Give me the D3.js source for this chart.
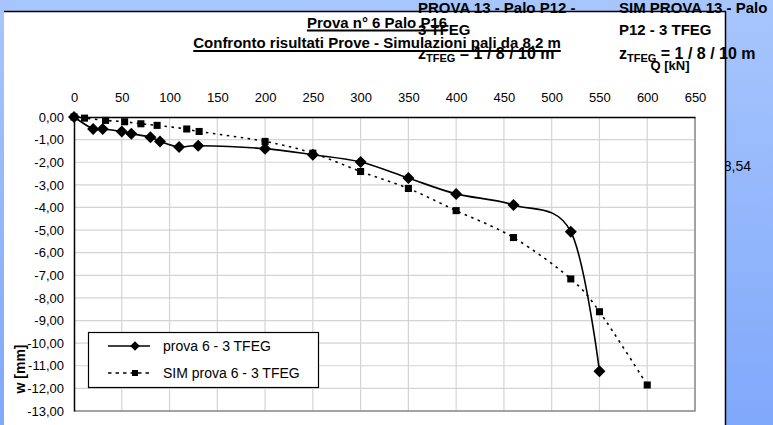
<!DOCTYPE html>
<html>
<head>
<meta charset="utf-8">
<script src="https://cdn.jsdelivr.net/npm/d3@7"></script>
<style>
  html, body { margin: 0; padding: 0; }
  body { width: 773px; height: 425px; overflow: hidden; }
  svg { display: block; font-family: Arial, "Liberation Sans", sans-serif; }
</style>
</head>
<body>
<div id="chart"></div>
<script>
// prova 6 - 3 TFEG (misurata)
const provaQ = [0, 20, 30, 50, 60, 80, 90, 110, 130, 200, 250, 300, 350, 400, 460, 520, 550];
const provaW = [0, -0.53, -0.53, -0.64, -0.74, -0.89, -1.08, -1.33, -1.27, -1.40, -1.67, -1.99, -2.70, -3.40, -3.89, -5.07, -11.24];

// SIM prova 6 - 3 TFEG (simulazione)
const simQ = [0, 11, 33, 53, 70, 87, 118, 131, 200, 250, 300, 350, 400, 460, 520, 550, 600];
const simW = [0, -0.05, -0.15, -0.21, -0.30, -0.37, -0.53, -0.64, -1.08, -1.60, -2.41, -3.16, -4.14, -5.33, -7.16, -8.61, -11.85];

const xTicks = [0, 50, 100, 150, 200, 250, 300, 350, 400, 450, 500, 550, 600, 650];
const yTicks = [0, -1, -2, -3, -4, -5, -6, -7, -8, -9, -10, -11, -12, -13];

const seriesNames = ["prova 6 - 3 TFEG", "SIM prova 6 - 3 TFEG"];

const width = 773, height = 425;
const plot = { left: 74, right: 695, top: 117, bottom: 411 };

const svg = d3.select("#chart").append("svg")
    .attr("width", width)
    .attr("height", height);

// sfondo blu sfumato
const defs = svg.append("defs");
const grad = defs.append("linearGradient")
    .attr("id", "bg").attr("x1", 0).attr("y1", 0).attr("x2", 0).attr("y2", 1);
grad.append("stop").attr("offset", "0%").attr("stop-color", "#a8c6fd");
grad.append("stop").attr("offset", "100%").attr("stop-color", "#80a8fb");
svg.append("rect").attr("width", width).attr("height", height).attr("fill", "url(#bg)");

// etichetta tagliata a destra (sotto il pannello)
svg.append("text")
    .attr("x", 751).attr("y", 171)
    .attr("text-anchor", "end")
    .attr("font-size", 14)
    .text("8,54");

// pannello bianco
svg.append("rect")
    .attr("x", 4).attr("y", 11)
    .attr("width", 721).attr("height", 420)
    .attr("fill", "#fff");
svg.append("path")
    .attr("d", "M4,11.5H725.5V425")
    .attr("fill", "none")
    .attr("stroke", "#000")
    .attr("stroke-width", 1.5);

const x = d3.scaleLinear().domain([0, 650]).range([plot.left, plot.right]);
const y = d3.scaleLinear().domain([0, -13]).range([plot.top, plot.bottom]);

// griglia
const grid = svg.append("g");
grid.selectAll("line.v")
    .data(xTicks.slice(1))
    .enter().append("line")
    .attr("x1", d => x(d)).attr("x2", d => x(d))
    .attr("y1", plot.top).attr("y2", plot.bottom)
    .attr("stroke", "#d4d4d4").attr("stroke-width", 1.2);
grid.selectAll("line.h")
    .data(yTicks.slice(1))
    .enter().append("line")
    .attr("x1", plot.left).attr("x2", plot.right)
    .attr("y1", d => y(d)).attr("y2", d => y(d))
    .attr("stroke", "#d4d4d4").attr("stroke-width", 1.2);

// bordo destro e inferiore grigio
svg.append("path")
    .attr("d", `M${plot.right},${plot.top}V${plot.bottom}H${plot.left}`)
    .attr("fill", "none")
    .attr("stroke", "#8c8c8c")
    .attr("stroke-width", 1.5);

// assi
const xAxis = svg.append("g")
    .attr("transform", `translate(0,${plot.top})`)
    .call(d3.axisTop(x).tickValues(xTicks).tickSize(0).tickPadding(15));
xAxis.select(".domain").attr("stroke", "#000").attr("stroke-width", 1.5);
xAxis.selectAll("text").attr("font-size", 13).attr("fill", "#000")
    .attr("font-family", "Arial, 'Liberation Sans', sans-serif");

const fmt = d => d3.format(".2f")(d).replace(".", ",").replace("−", "-");
const yAxis = svg.append("g")
    .attr("transform", `translate(${plot.left},0)`)
    .call(d3.axisLeft(y).tickValues(yTicks).tickSize(0).tickPadding(10).tickFormat(fmt));
yAxis.select(".domain").attr("stroke", "#000").attr("stroke-width", 1.5);
yAxis.selectAll("text").attr("font-size", 13).attr("fill", "#000")
    .attr("font-family", "Arial, 'Liberation Sans', sans-serif");

// curve
const line = d3.line()
    .x(d => x(d[0]))
    .y(d => y(d[1]))
    .curve(d3.curveCatmullRom.alpha(0));

const simData = simQ.map((q, i) => [q, simW[i]]);
const provaData = provaQ.map((q, i) => [q, provaW[i]]);

svg.append("path")
    .datum(simData)
    .attr("d", line)
    .attr("fill", "none")
    .attr("stroke", "#000")
    .attr("stroke-width", 1.6)
    .attr("stroke-dasharray", "2.5,4.5");

svg.append("path")
    .datum(provaData)
    .attr("d", line)
    .attr("fill", "none")
    .attr("stroke", "#000")
    .attr("stroke-width", 1.6);

const square = d3.symbol().type(d3.symbolSquare).size(50);
const diamond = "M0,-6L6,0L0,6L-6,0Z";

svg.append("g").selectAll("path")
    .data(simData)
    .enter().append("path")
    .attr("transform", d => `translate(${x(d[0])},${y(d[1])})`)
    .attr("d", square)
    .attr("fill", "#000");

svg.append("g").selectAll("path")
    .data(provaData)
    .enter().append("path")
    .attr("transform", d => `translate(${x(d[0])},${y(d[1])})`)
    .attr("d", diamond)
    .attr("fill", "#000");

// legenda
const legend = svg.append("g").attr("transform", "translate(88,332)");
legend.append("rect")
    .attr("x", 0.5).attr("y", 0.5)
    .attr("width", 230).attr("height", 55)
    .attr("fill", "#fff").attr("stroke", "#000").attr("stroke-width", 1.2);

const legRows = [
    { name: seriesNames[0], y: 14, dash: null, mark: diamond },
    { name: seriesNames[1], y: 41, dash: "3.5,4", mark: square }
];
legRows.forEach(r => {
    legend.append("line")
        .attr("x1", 20).attr("x2", 62)
        .attr("y1", r.y).attr("y2", r.y)
        .attr("stroke", "#000").attr("stroke-width", 1.6)
        .attr("stroke-dasharray", r.dash);
    legend.append("path")
        .attr("transform", `translate(47,${r.y}) scale(${r.mark === diamond ? 0.8 : 0.85})`)
        .attr("d", r.mark)
        .attr("fill", "#000");
    legend.append("text")
        .attr("x", 75).attr("y", r.y + 5)
        .attr("font-size", 14)
        .text(r.name);
});

// titoli degli assi
svg.append("text")
    .attr("transform", "translate(25,369) rotate(-90)")
    .attr("text-anchor", "middle")
    .attr("font-size", 14)
    .attr("font-weight", "bold")
    .text("w [mm]");

svg.append("text")
    .attr("x", 670).attr("y", 70)
    .attr("text-anchor", "middle")
    .attr("font-size", 13)
    .attr("font-weight", "bold")
    .text("Q [kN]");

// caselle di testo sovrapposte
function zLabel(x0, y0) {
    const t = svg.append("text")
        .attr("x", x0).attr("y", y0)
        .attr("font-size", 16)
        .attr("font-weight", "bold");
    t.append("tspan").text("z");
    t.append("tspan").attr("font-size", 11).attr("dy", 3).text("TFEG");
    t.append("tspan").attr("dy", -3).text(" = 1 / 8 / 10 m");
}

svg.append("text").attr("x", 418).attr("y", 13)
    .attr("font-size", 15).attr("font-weight", "bold")
    .text("PROVA 13 - Palo P12 -");
svg.append("text").attr("x", 418).attr("y", 35)
    .attr("font-size", 15).attr("font-weight", "bold")
    .text("3 TFEG");
zLabel(418, 59);

svg.append("text").attr("x", 619).attr("y", 13)
    .attr("font-size", 15).attr("font-weight", "bold")
    .text("SIM PROVA 13  -  Palo");
svg.append("text").attr("x", 619).attr("y", 35)
    .attr("font-size", 15).attr("font-weight", "bold")
    .text("P12 - 3 TFEG");
zLabel(619, 59);

// titolo sottolineato
const titles = [
    { text: "Prova n° 6 Palo P16", y: 28, uy: 30.5 },
    { text: "Confronto risultati Prove - Simulazioni pali da 8,2 m", y: 48, uy: 51 }
];
titles.forEach(t => {
    const tx = svg.append("text")
        .attr("x", 377).attr("y", t.y)
        .attr("text-anchor", "middle")
        .attr("font-size", 15)
        .attr("font-weight", "bold")
        .text(t.text);
    const w = tx.node().getComputedTextLength();
    svg.append("line")
        .attr("x1", 377 - w / 2).attr("x2", 377 + w / 2)
        .attr("y1", t.uy).attr("y2", t.uy)
        .attr("stroke", "#000").attr("stroke-width", 2);
});
</script>
</body>
</html>
